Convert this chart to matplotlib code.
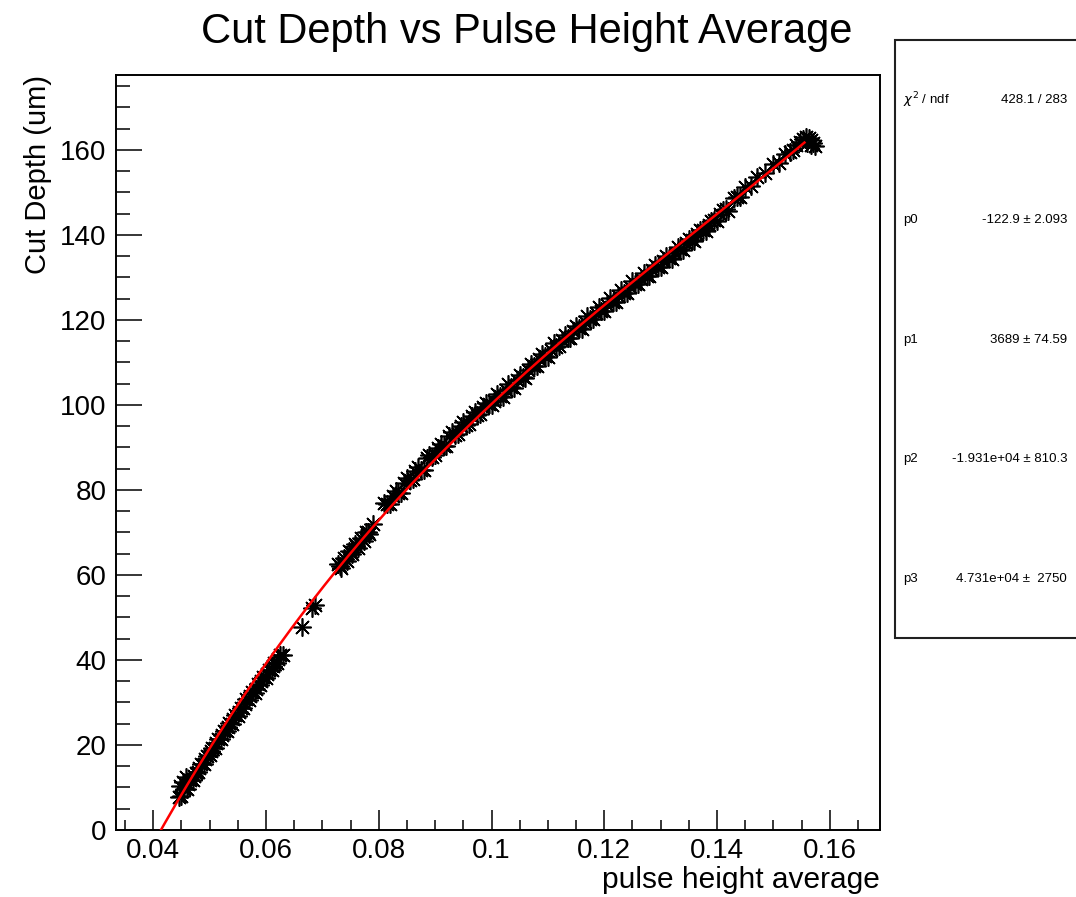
import numpy as np
import matplotlib.pyplot as plt
from matplotlib.patches import Rectangle
from matplotlib.ticker import MultipleLocator

plt.rcParams['font.family'] = ['Liberation Sans', 'DejaVu Sans']

# measured points: pulse height average vs cut depth (um), grouped by run
pha_low = [
    0.0445, 0.0447, 0.0450, 0.0452, 0.0455, 0.0458, 0.0460, 0.0465, 0.0470, 0.0475,
    0.0480, 0.0485, 0.0490, 0.0495, 0.0500, 0.0505, 0.0510, 0.0515, 0.0520, 0.0525,
    0.0530, 0.0535, 0.0540, 0.0545, 0.0550, 0.0555, 0.0560, 0.0565, 0.0570, 0.0575,
    0.0580, 0.0585, 0.0590, 0.0595, 0.0600, 0.0605, 0.0610, 0.0615, 0.0620, 0.0625,
    0.0630,
    0.0462, 0.0472, 0.0482, 0.0492, 0.0502, 0.0512, 0.0522, 0.0532, 0.0542, 0.0552,
    0.0562, 0.0572, 0.0582, 0.0592, 0.0602, 0.0612, 0.0622,
]
depth_low = [
    7.8, 10.4, 7.9, 11.3, 9.7, 12.5, 9.6, 11.8, 11.7, 13.5,
    13.7, 15.6, 15.5, 17.5, 17.6, 19.4, 19.4, 21.4, 21.4, 23.3,
    23.2, 25.2, 25.0, 27.0, 26.9, 28.8, 28.7, 30.7, 30.6, 32.5,
    32.3, 34.3, 34.1, 36.0, 35.8, 37.7, 37.6, 39.4, 39.3, 41.1,
    41.1,
    10.8, 12.8, 14.7, 16.6, 18.5, 20.5, 22.4, 24.2, 26.1, 27.8,
    29.7, 31.5, 33.2, 35.0, 36.7, 38.5, 40.2,
]

pha_mid = [
    0.0664, 0.0682, 0.0687,
    0.0728, 0.0733, 0.0738, 0.0743, 0.0748, 0.0753, 0.0758, 0.0763, 0.0768, 0.0773,
    0.0778, 0.0783,
    0.07305, 0.07405, 0.07505, 0.07605, 0.07705, 0.07805,
    0.0790,
]
depth_mid = [
    47.8, 52.2, 53.0,
    62.5, 61.6, 64.0, 63.2, 65.7, 64.9, 67.2, 66.4, 68.8, 68.0,
    70.2, 69.6,
    62.0, 63.7, 65.3, 66.9, 68.4, 70.0,
    72.0,
]

pha_high = [
    0.081, 0.082, 0.083, 0.084, 0.085, 0.086, 0.087, 0.088, 0.089, 0.090,
    0.091, 0.092, 0.093, 0.094, 0.095, 0.096, 0.097, 0.098, 0.099, 0.100,
    0.101, 0.102, 0.103, 0.104, 0.105, 0.106, 0.107, 0.108, 0.109, 0.110,
    0.111, 0.112, 0.113, 0.114, 0.115, 0.116, 0.117, 0.118, 0.119, 0.120,
    0.121, 0.122, 0.123, 0.124, 0.125,
    0.126, 0.127, 0.128, 0.129, 0.130, 0.131, 0.132, 0.133, 0.134, 0.135,
    0.136, 0.137, 0.138, 0.139, 0.140, 0.141, 0.142,
    0.143, 0.144, 0.145, 0.146, 0.147, 0.1485, 0.150, 0.151, 0.152, 0.153, 0.154,
    0.0815, 0.0825, 0.0835, 0.0845, 0.0855, 0.0865, 0.0875, 0.0885, 0.0895, 0.0905,
    0.0915, 0.0925, 0.0935, 0.0945, 0.0955, 0.0965, 0.0975, 0.0985, 0.0995,
    0.1005, 0.1015, 0.1025, 0.1035, 0.1045, 0.1055, 0.1065, 0.1075, 0.1085, 0.1095,
    0.1105, 0.1115, 0.1125, 0.1135, 0.1145, 0.1155, 0.1165, 0.1175, 0.1185, 0.1195,
    0.1205, 0.1215, 0.1225, 0.1235, 0.1245,
    0.1255, 0.1265, 0.1275, 0.1285, 0.1295, 0.1305, 0.1315, 0.1325, 0.1335, 0.1345,
    0.1355, 0.1365, 0.1375, 0.1385, 0.1395, 0.1405, 0.1415,
    0.1435, 0.1535,
    0.1548, 0.1553, 0.1558, 0.1563, 0.1567, 0.1571, 0.1574, 0.1560, 0.1566,
]
depth_high = [
    76.9, 76.6, 79.7, 79.3, 82.9, 82.6, 85.3, 84.8, 88.3, 88.1,
    90.7, 90.4, 93.6, 93.2, 95.9, 95.4, 98.3, 97.9, 100.5, 100.0,
    102.5, 101.8, 104.9, 104.0, 107.1, 106.3, 109.6, 109.1, 112.0, 111.2,
    114.6, 113.8, 116.5, 115.7, 118.6, 117.8, 120.9, 120.3, 123.0, 122.2,
    125.1, 124.3, 127.1, 126.3, 129.1,
    128.4, 131.1, 130.3, 133.0, 132.4, 135.0, 134.4, 137.1, 136.4, 139.1,
    138.5, 141.1, 140.8, 143.3, 143.2, 145.8, 145.7,
    148.7, 148.8, 151.3, 151.5, 153.6, 154.5, 156.6, 157.0, 159.0, 159.6, 161.1,
    76.7, 78.5, 79.2, 81.7, 82.4, 84.4, 84.7, 87.5, 87.8, 89.9,
    90.3, 92.7, 92.9, 95.0, 95.3, 97.4, 97.6, 99.6, 100.1,
    101.0, 102.0, 103.6, 104.3, 105.8, 106.6, 108.3, 109.2, 110.8, 111.4,
    112.9, 113.6, 115.3, 115.8, 117.4, 118.0, 119.5, 120.1, 121.6, 122.2,
    123.6, 124.3, 125.7, 126.4, 127.8,
    128.4, 129.7, 130.4, 131.8, 132.4, 133.8, 134.5, 135.8, 136.6, 138.0,
    138.8, 140.2, 141.1, 142.4, 143.4, 144.8, 146.0,
    148.9, 160.0,
    161.9, 162.6, 162.9, 162.7, 162.2, 161.6, 161.0, 161.5, 161.2,
]

# cubic fit p0 + p1*x + p2*x^2 + p3*x^3
par = [-122.9, 3689, -1.931e4, 4.731e4]
par_err = [2.093, 74.59, 810.3, 2750]
chi2, ndf = 428.1, 283
fit_range = (0.040, 0.1555)

x_ticks = [0.04, 0.06, 0.08, 0.10, 0.12, 0.14, 0.16]
x_ticklabels = ['0.04', '0.06', '0.08', '0.1', '0.12', '0.14', '0.16']

W, H = 1076, 897
fig = plt.figure(figsize=(W / 100, H / 100), dpi=100)
ax = fig.add_axes([116 / W, 1 - 830 / H, 764 / W, 755 / H])

pha = pha_low + pha_mid + pha_high
depth = depth_low + depth_mid + depth_high
ax.plot(pha, depth, ls='none', marker=(8, 2, 0), ms=13, mew=1.2,
        color='black', zorder=2)
xf = np.linspace(fit_range[0], fit_range[1], 400)
ax.plot(xf, np.polyval(par[::-1], xf), color='red', lw=1.8, zorder=3)

ax.set_xlim(0.0334, 0.1689)
ax.set_ylim(0, 177.6)
ax.set_xticks(x_ticks)
ax.set_xticklabels(x_ticklabels)
ax.xaxis.set_minor_locator(MultipleLocator(0.005))
ax.yaxis.set_major_locator(MultipleLocator(20))
ax.yaxis.set_minor_locator(MultipleLocator(5))

ax.tick_params(which='both', direction='in', top=False, right=False, width=1.1)
ax.tick_params(axis='x', which='major', length=14.4, labelsize=20, pad=6)
ax.tick_params(axis='x', which='minor', length=7.2)
ax.tick_params(axis='y', which='major', length=19, labelsize=20, pad=7)
ax.tick_params(axis='y', which='minor', length=10)
for s in ax.spines.values():
    s.set_linewidth(1.4)

fig.text(527 / W, 1 - 43 / H, 'Cut Depth vs Pulse Height Average',
         ha='center', va='baseline', fontsize=30)
fig.text(38 / W, 1 - 75 / H, 'Cut Depth (um)', rotation=90,
         ha='center', va='top', fontsize=21)
fig.text(880 / W, 1 - 880 / H, 'pulse height average',
         ha='right', va='center', fontsize=21.5)

# fit statistics box
fig.add_artist(Rectangle((895 / W, 1 - 638 / H), 220 / W, 598 / H,
                         transform=fig.transFigure, facecolor='white',
                         edgecolor='#202020', lw=1.5))
rows = [(r'$\chi^2$ / ndf', f'{chi2:.1f} / {ndf}')]
for i, (v, e) in enumerate(zip(par, par_err)):
    rows.append((f'p{i}', f'{v:.4g} \u00b1 {e:5.4g}'))
for k, (name, val) in enumerate(rows):
    y = 1 - (100 + 119.8 * k) / H
    fig.text(903 / W, y, name, ha='left', va='center', fontsize=9.5)
    fig.text(1067 / W, y, val, ha='right', va='center', fontsize=9.5)

fig.savefig('out.png', dpi=100)
